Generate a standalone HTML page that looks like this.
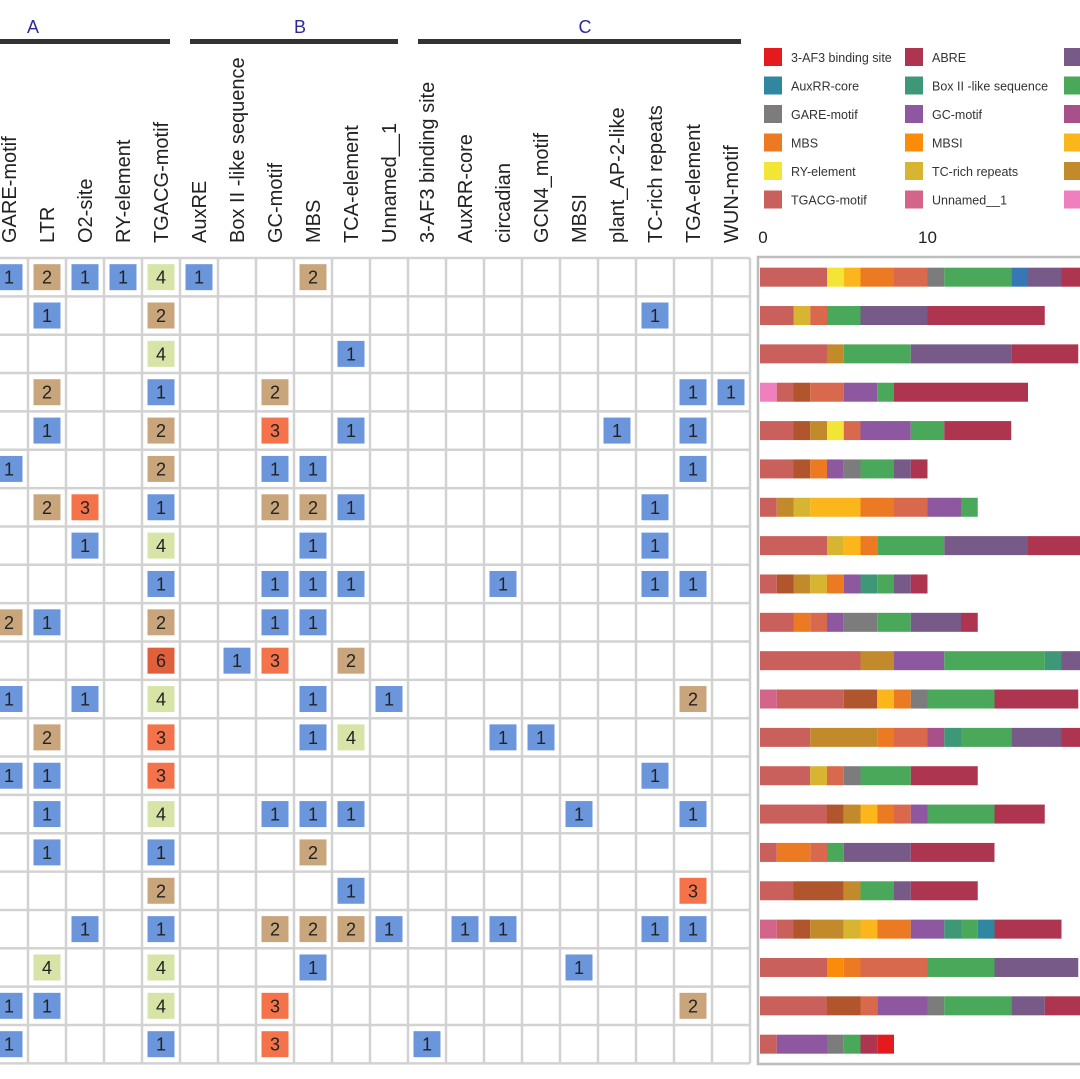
<!DOCTYPE html>
<html><head><meta charset="utf-8"><style>
html,body{margin:0;padding:0;background:#fff;width:1080px;height:1079px;overflow:hidden}
svg text{font-family:"Liberation Sans","DejaVu Sans",sans-serif}
</style></head><body>
<svg id="chart" width="1080" height="1079" viewBox="0 0 1080 1079" xmlns="http://www.w3.org/2000/svg">
<g id="header">
<text x="33" y="33" font-size="18" fill="#2b2b9a" text-anchor="middle">A</text>
<text x="300" y="33" font-size="18" fill="#2b2b9a" text-anchor="middle">B</text>
<text x="585" y="33" font-size="18" fill="#2b2b9a" text-anchor="middle">C</text>
<rect x="0" y="39" width="170" height="5" fill="#333"/>
<rect x="190" y="39" width="208" height="5" fill="#333"/>
<rect x="418" y="39" width="323" height="5" fill="#333"/>
</g>
<g id="grid"></g>
<g id="legend"></g>
<g id="bars"></g>
</svg>
<script>
const columns = ["GARE-motif","LTR","O2-site","RY-element","TGACG-motif","AuxRE","Box II -like sequence","GC-motif","MBS","TCA-element","Unnamed__1","3-AF3 binding site","AuxRR-core","circadian","GCN4_motif","MBSI","plant_AP-2-like","TC-rich repeats","TGA-element","WUN-motif"];
// each row: [columnIndex, count]
const gridRows = [
[[0,1],[1,2],[2,1],[3,1],[4,4],[5,1],[8,2]],
[[1,1],[4,2],[17,1]],
[[4,4],[9,1]],
[[1,2],[4,1],[7,2],[18,1],[19,1]],
[[1,1],[4,2],[7,3],[9,1],[16,1],[18,1]],
[[0,1],[4,2],[7,1],[8,1],[18,1]],
[[1,2],[2,3],[4,1],[7,2],[8,2],[9,1],[17,1]],
[[2,1],[4,4],[8,1],[17,1]],
[[4,1],[7,1],[8,1],[9,1],[13,1],[17,1],[18,1]],
[[0,2],[1,1],[4,2],[7,1],[8,1]],
[[4,6],[6,1],[7,3],[9,2]],
[[0,1],[2,1],[4,4],[8,1],[10,1],[18,2]],
[[1,2],[4,3],[8,1],[9,4],[13,1],[14,1]],
[[0,1],[1,1],[4,3],[17,1]],
[[1,1],[4,4],[7,1],[8,1],[9,1],[15,1],[18,1]],
[[1,1],[4,1],[8,2]],
[[4,2],[9,1],[18,3]],
[[2,1],[4,1],[7,2],[8,2],[9,2],[10,1],[12,1],[13,1],[17,1],[18,1]],
[[1,4],[4,4],[8,1],[15,1]],
[[0,1],[1,1],[4,4],[7,3],[18,2]],
[[0,1],[4,1],[7,3],[11,1]]
];
const legendLabels = ["3-AF3 binding site","AuxRR-core","GARE-motif","MBS","RY-element","TGACG-motif","ABRE","Box II -like sequence","GC-motif","MBSI","TC-rich repeats","Unnamed__1","","","","","",""];
const legendKeys = ["RD","AX","GA","MBS","RY","TG","AB","BX","GC","MO","TC","PM","PU","GR","MG","LO","OC","PK"];
// stacked bar segments: [colorKey, count]
const barRows = [
[["TG",4],["RY",1],["LO",1],["MBS",2],["CO",2],["GA",1],["GR",4],["BL",1],["PU",2],["AB",2]],
[["TG",2],["TC",1],["CO",1],["GR",2],["PU",4],["AB",7]],
[["TG",4],["OC",1],["GR",4],["PU",6],["AB",4]],
[["PK",1],["TG",1],["BR",1],["CO",2],["GC",2],["GR",1],["AB",8]],
[["TG",2],["BR",1],["OC",1],["RY",1],["CO",1],["GC",3],["GR",2],["AB",4]],
[["TG",2],["BR",1],["MBS",1],["GC",1],["GA",1],["GR",2],["PU",1],["AB",1]],
[["TG",1],["OC",1],["TC",1],["LO",3],["MBS",2],["CO",2],["GC",2],["GR",1]],
[["TG",4],["TC",1],["LO",1],["MBS",1],["GR",4],["PU",5],["AB",4]],
[["TG",1],["BR",1],["OC",1],["TC",1],["MBS",1],["GC",1],["BX",1],["GR",1],["PU",1],["AB",1]],
[["TG",2],["MBS",1],["CO",1],["GC",1],["GA",2],["GR",2],["PU",3],["AB",1]],
[["TG",6],["OC",2],["GC",3],["GR",6],["BX",1],["PU",2]],
[["PM",1],["TG",4],["BR",2],["LO",1],["MBS",1],["GA",1],["GR",4],["AB",5]],
[["TG",3],["OC",4],["MBS",1],["CO",2],["MG",1],["BX",1],["GR",3],["PU",3],["AB",2]],
[["TG",3],["TC",1],["CO",1],["GA",1],["GR",3],["AB",4]],
[["TG",4],["BR",1],["OC",1],["LO",1],["MBS",1],["CO",1],["GC",1],["GR",4],["AB",3]],
[["TG",1],["MBS",2],["CO",1],["GR",1],["PU",4],["AB",5]],
[["TG",2],["BR",3],["OC",1],["GR",2],["PU",1],["AB",4]],
[["PM",1],["TG",1],["BR",1],["OC",2],["TC",1],["LO",1],["MBS",2],["GC",2],["BX",1],["GR",1],["AX",1],["AB",4]],
[["TG",4],["MO",1],["MBS",1],["CO",4],["GR",4],["PU",5]],
[["TG",4],["BR",2],["CO",1],["GC",3],["GA",1],["GR",4],["PU",2],["AB",3]],
[["TG",1],["GC",3],["GA",1],["GR",1],["AB",1],["RD",1]]
];
const xTicks = [0,10,20];

const palette = {TG:"#c9605c",RY:"#f3e535",LO:"#fbb61b",MBS:"#ec7a22",CO:"#d9694c",GA:"#7c7c7c",GR:"#4aa85a",BL:"#3778b4",PU:"#775a87",AB:"#ad3550",TC:"#d8b530",OC:"#c38a2c",BR:"#b0552c",PK:"#f07fbf",GC:"#8e58a0",PM:"#d4658a",BX:"#3e9878",MG:"#a8508a",RD:"#e41a1c",AX:"#2f88a0",MO:"#fb8c0a"};
const countColor = {1:"#6b96dc",2:"#c9a57c",3:"#f5734b",4:"#d7e4a8",6:"#e0603c"};
const NS="http://www.w3.org/2000/svg";
function mk(tag,attrs,parent){const e=document.createElementNS(NS,tag);for(const k in attrs)e.setAttribute(k,attrs[k]);parent.appendChild(e);return e;}

const colW=38, gx0=-10, gy0=258, rowH=38.35;
const colX = i => gx0 + i*colW;
const rowY = r => gy0 + r*rowH;
const grid=document.getElementById('grid');
columns.forEach((c,i)=>{
  const cx=colX(i)+colW/2;
  const t=mk('text',{x:0,y:0,transform:`translate(${cx+7},243) rotate(-90)`,'font-size':20,fill:'#222'},grid);
  t.textContent=c;
  
  
});
for(let i=0;i<=columns.length;i++){
  const l=mk('line',{x1:colX(i),x2:colX(i),y1:gy0,y2:rowY(gridRows.length),stroke:'#d2d2d2','stroke-width':2.5},grid);
  
  
}
for(let r=0;r<=gridRows.length;r++){
  const l=mk('line',{x1:gx0,x2:colX(columns.length),y1:rowY(r),y2:rowY(r),stroke:'#d2d2d2','stroke-width':2.5},grid);
  
  
}
gridRows.forEach((row,r)=>{
  row.forEach(([c,v])=>{
    const cx=colX(c)+colW/2, cy=rowY(r)+rowH/2;
    const b=mk('rect',{x:cx-13.5,y:cy-13,width:27,height:26,fill:countColor[v]||'#e0603c'},grid);
    
    
    const t=mk('text',{x:cx,y:cy+6.5,'font-size':18,'text-anchor':'middle',fill:'#222'},grid);
    t.textContent=v;
    
    
  });
});
const leg=document.getElementById('legend');
legendKeys.forEach((k,i)=>{
  const col=Math.floor(i/6), row=i%6;
  const lx=[764,905,1064][col], ly=48+row*28.5;
  const s=mk('rect',{x:lx,y:ly,width:18,height:18,fill:palette[k]},leg);
  
  
  if(legendLabels[i]){
    const t=mk('text',{x:lx+27,y:ly+14,'font-size':12.5,fill:'#333'},leg);
    t.textContent=legendLabels[i];
    
    
  }
});
const bars=document.getElementById('bars');
const bx0=760, unit=16.75;
const xs = v => bx0 + v*unit;
const panel=mk('rect',{x:758,y:257,width:340,height:807,fill:'none',stroke:'#bdbdbd','stroke-width':2.5},bars);


xTicks.forEach(v=>{
  const t=mk('text',{x:xs(v)+(v===0?3:0),y:243,'font-size':17,'text-anchor':'middle',fill:'#222'},bars);
  t.textContent=v;
  
  
});
barRows.forEach((row,r)=>{
  let acc=0;
  const cy=rowY(r)+rowH/2;
  row.forEach(([k,v])=>{
    const seg=mk('rect',{x:xs(acc),y:cy-9.5,width:xs(acc+v)-xs(acc),height:19,fill:palette[k]},bars);
    
    
    acc+=v;
  });
});
</script>
</body></html>
